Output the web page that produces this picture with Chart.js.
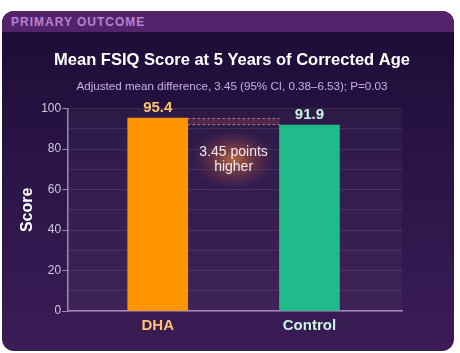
<!DOCTYPE html>
<html>
<head>
<meta charset="utf-8">
<script src="https://cdn.jsdelivr.net/npm/chart.js@4.4.1/dist/chart.umd.min.js"></script>
<style>
  html, body { margin: 0; padding: 0; background: #ffffff; }
  #wrap { position: relative; width: 460px; height: 353px; overflow: hidden; }
  .card {
    position: absolute; left: 2px; top: 11px; width: 452px; height: 340px;
    border-radius: 12px; overflow: hidden;
    background: linear-gradient(180deg, #1c0c35 0%, #2a1446 45%, #3b1c56 100%);
  }
  .card .head {
    height: 21px; background: #53246b; color: #b880d4;
    font: bold 12px "Liberation Sans", Arial, sans-serif; letter-spacing: 1px;
    line-height: 22px; padding-left: 9px;
  }
  canvas { position: absolute; left: 0; top: 0; }
</style>
</head>
<body>
<div id="wrap">
  <div class="card"><div class="head">PRIMARY OUTCOME</div></div>
  <canvas id="fsiqChart" width="460" height="353"></canvas>
</div>
<script>
// --- data ---
const groups = ['DHA', 'Control'];
const meanScores = [95.4, 91.9];
const barColors = ['#ff9500', '#21ba8b'];
const labelColors = ['#ffc56e', '#c9f5e1'];
const yMin = 0, yMax = 100, yStep = 10;
const diffNote = ['3.45 points', 'higher'];

const FONT = '"Liberation Sans", Arial, sans-serif';
const AXIS_COLOR = '#9d88b8';

// plot background + glow + gap band, drawn around the bars
const backdrop = {
    id: 'backdrop',
    beforeDatasetsDraw(chart) {
        const { ctx, chartArea: a } = chart;
        ctx.save();
        ctx.fillStyle = 'rgba(255,255,255,0.035)';
        ctx.fillRect(a.left, a.top, a.right - a.left, a.bottom - a.top);
        ctx.restore();
    },
    afterDatasetsDraw(chart) {
        const { ctx } = chart;
        const bars = chart.getDatasetMeta(0).data;
        const y = chart.scales.y;
        const b0 = bars[0], b1 = bars[1];
        const x0 = b0.x + b0.width / 2, x1 = b1.x - b1.width / 2;
        const yTop = y.getPixelForValue(meanScores[0]);
        const yBot = y.getPixelForValue(meanScores[1]);

        ctx.save();
        // shaded difference band with dotted edges
        ctx.fillStyle = 'rgba(150,70,80,0.35)';
        ctx.fillRect(x0, yTop, x1 - x0, yBot - yTop);
        ctx.strokeStyle = 'rgba(220,170,185,0.75)';
        ctx.lineWidth = 1;
        ctx.setLineDash([2, 3]);
        ctx.beginPath();
        ctx.moveTo(x0, yTop + 0.5); ctx.lineTo(x1, yTop + 0.5);
        ctx.moveTo(x0, yBot - 0.5); ctx.lineTo(x1, yBot - 0.5);
        ctx.stroke();
        ctx.setLineDash([]);

        // glow behind the note
        const cx = (x0 + x1) / 2, cy = y.getPixelForValue(75);
        ctx.translate(cx, cy);
        ctx.scale(1.4, 1);
        const g = ctx.createRadialGradient(0, 0, 0, 0, 0, 30);
        g.addColorStop(0, 'rgba(215,120,55,0.8)');
        g.addColorStop(0.55, 'rgba(165,80,65,0.38)');
        g.addColorStop(1, 'rgba(120,50,90,0)');
        ctx.fillStyle = g;
        ctx.beginPath();
        ctx.arc(0, 0, 30, 0, Math.PI * 2);
        ctx.fill();
        ctx.setTransform(1, 0, 0, 1, 0, 0);

        ctx.fillStyle = '#f3e9f0';
        ctx.font = '14px ' + FONT;
        ctx.textAlign = 'center';
        ctx.textBaseline = 'middle';
        ctx.fillText(diffNote[0], cx, cy - 7);
        ctx.fillText(diffNote[1], cx, cy + 8);

        // value labels above bars
        ctx.font = 'bold 15px ' + FONT;
        bars.forEach(function (bar, i) {
            ctx.fillStyle = labelColors[i];
            ctx.fillText(meanScores[i].toFixed(1), bar.x, bar.y - 10);
        });
        ctx.restore();
    }
};

const ctx = document.getElementById('fsiqChart').getContext('2d');
new Chart(ctx, {
    type: 'bar',
    data: {
        datasets: [{
            data: meanScores.map(function (v, i) { return { x: i, y: v }; }),
            backgroundColor: barColors,
            borderWidth: 0,
            barThickness: 60
        }]
    },
    options: {
        responsive: false,
        animation: false,
        layout: { padding: { top: 51, left: 18, right: 14, bottom: 12 } },
        plugins: {
            legend: { display: false },
            tooltip: { enabled: false },
            title: {
                display: true,
                text: 'Mean FSIQ Score at 5 Years of Corrected Age',
                color: '#ffffff',
                font: { family: FONT, size: 16.5, weight: 'bold' },
                padding: { top: 0, bottom: 7 }
            },
            subtitle: {
                display: true,
                text: 'Adjusted mean difference, 3.45 (95% CI, 0.38–6.53); P=0.03',
                color: '#c9afe6',
                font: { family: FONT, size: 11.6 },
                padding: { top: 2, bottom: 15 }
            }
        },
        scales: {
            x: {
                type: 'linear',
                min: -0.59,
                max: 1.61,
                offset: false,
                afterBuildTicks: function (axis) {
                    axis.ticks = groups.map(function (g, i) { return { value: i }; });
                },
                grid: { display: false, drawTicks: false },
                border: { color: AXIS_COLOR, width: 1.5 },
                ticks: {
                    padding: 6,
                    autoSkip: false,
                    maxRotation: 0,
                    color: function (c) { return labelColors[c.tick.value] || '#fff'; },
                    font: { family: FONT, size: 15, weight: 'bold' },
                    callback: function (v) { return groups[v]; }
                }
            },
            y: {
                min: yMin,
                max: yMax,
                title: {
                    display: true,
                    text: 'Score',
                    color: '#ffffff',
                    font: { family: FONT, size: 16, weight: 'bold' },
                    padding: { top: 0, bottom: 3 }
                },
                grid: {
                    color: 'rgba(255,255,255,0.09)',
                    tickLength: 6,
                    tickColor: function (c) {
                        return c.tick && c.tick.value % 20 === 0 ? AXIS_COLOR : 'rgba(0,0,0,0)';
                    }
                },
                border: { color: AXIS_COLOR, width: 1.5 },
                ticks: {
                    stepSize: yStep,
                    padding: 1,
                    color: '#d2cadf',
                    font: { family: FONT, size: 12 },
                    callback: function (v) { return v % 20 === 0 ? v : ''; }
                }
            },
            // empty right-hand axis: keeps the plot narrower so the title stays centred on the card
            yRight: {
                position: 'right',
                grid: { display: false },
                border: { display: false },
                ticks: { display: false },
                afterFit: function (axis) { axis.width = 44; }
            }
        }
    },
    plugins: [backdrop]
});
</script>
</body>
</html>
